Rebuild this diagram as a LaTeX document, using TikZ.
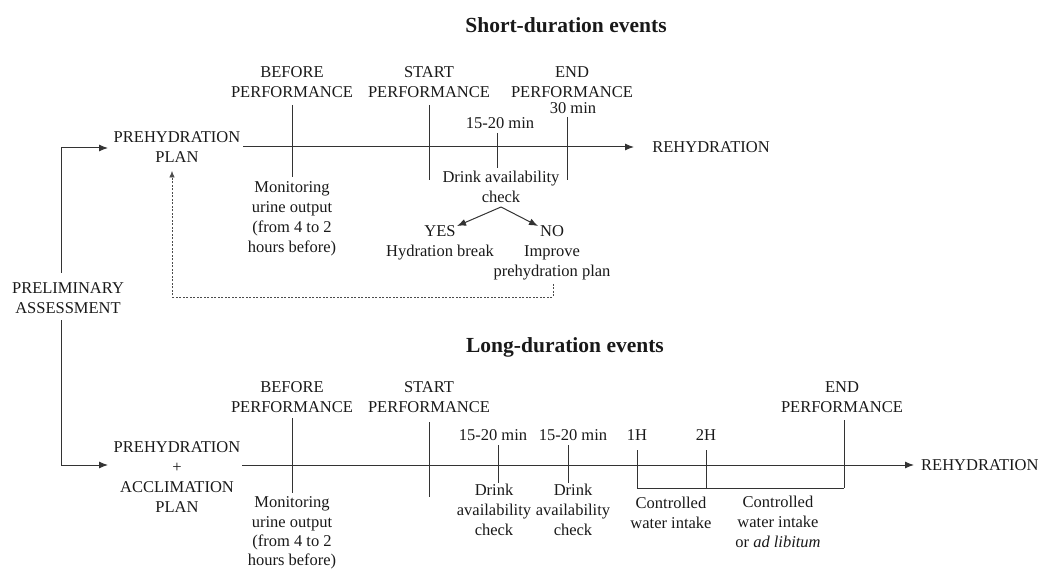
\documentclass[tikz,border=0pt]{standalone}
\usepackage{fontspec}
\setmainfont{Liberation Serif}
\usetikzlibrary{arrows.meta}
\begin{document}
\begin{tikzpicture}[x=1pt,y=-1pt,
  txt/.style={inner sep=0pt,align=center,font=\fontsize{16.5}{20}\selectfont,text=black!90},
  ttl/.style={inner sep=0pt,font=\fontsize{21.5}{24}\selectfont\bfseries,text=black!90},
  ln/.style={line width=1pt,draw=black!80},
  arr/.style={ln,-{Latex[length=9pt,width=7pt]}},
  dsh/.style={line width=0.6pt,draw=black!70,dash pattern=on 2pt off 1.5pt,-{Latex[length=6.5pt,width=5.5pt]}}]
\useasboundingbox (0,0) rectangle (1042,572);

% titles
\node[ttl] (t1) at (566,25) {Short-duration events};
\node[ttl] (t2) at (565,347) {Long-duration events};

% left
\node[txt] (prelim) at (68,298) {PRELIMINARY\\ASSESSMENT};
\node[txt] (plan1) at (177,147) {PREHYDRATION\\PLAN};
\node[txt] (plan2) at (177,477.5) {PREHYDRATION\\+\\ACCLIMATION\\PLAN};
\coordinate (pa) at (61,273);
\coordinate (pb) at (61,320);
\coordinate (p1w) at (108,148);
\coordinate (p2w) at (108,465);
\draw[arr] (pa) |- (p1w);
\draw[arr] (pb) |- (p2w);

% ---------- short-duration timeline ----------
\node[txt] (rh1) at (711,147) {REHYDRATION};
\coordinate (s0) at (243,147);
\coordinate (s1) at (634,147);
\draw[arr] (s0) -- (s1);

\node[txt] (sbef) at (292,82) {BEFORE\\PERFORMANCE};
\draw[ln] (292,105) -- (292,177);
\node[txt] (smon) at (292,219) {Monitoring\\urine output\\(from 4 to 2\\hours before)};

\node[txt] (sstart) at (429,82) {START\\PERFORMANCE};
\draw[ln] (429,105) -- (429,180);

\node[txt] (s15) at (500,123) {15-20 min};
\draw[ln] (497,133) -- (497,168);

\node[txt] (send) at (572,82) {END\\PERFORMANCE};
\node[txt] (s30) at (573,108) {30 min};
\draw[ln] (567,117) -- (567,180);

\node[txt] (sdrink) at (501,186.5) {Drink availability\\check};
\node[txt] (yes) at (440,243) {YES\\Hydration break};
\node[txt] (no) at (552,252.5) {NO\\Improve\\prehydration plan};
\coordinate (dk) at (501,207);
\coordinate (ya) at (457,226);
\coordinate (na) at (538,226);
\draw[arr] (dk) -- (ya);
\draw[arr] (dk) -- (na);

\coordinate (d0) at (553,284);
\coordinate (d1) at (553,297);
\coordinate (d2) at (172,297);
\coordinate (d3) at (172,171);
\draw[dsh] (d0) -- (d1) -- (d2) -- (d3);

% ---------- long-duration timeline ----------
\node[txt,anchor=west] (rh2) at (921,465) {REHYDRATION};
\coordinate (l0) at (242,465);
\coordinate (l1) at (914,465);
\draw[arr] (l0) -- (l1);

\node[txt] (lbef) at (292,397.5) {BEFORE\\PERFORMANCE};
\draw[ln] (292,418) -- (292,493);
\node[txt,font=\fontsize{16.5}{19.3}\selectfont] (lmon) at (292,533) {Monitoring\\urine output\\(from 4 to 2\\hours before)};

\node[txt] (lstart) at (429,397.5) {START\\PERFORMANCE};
\draw[ln] (429,422) -- (429,497);

\node[txt] (l15a) at (493,435) {15-20 min};
\draw[ln] (498,445) -- (498,483);
\node[txt] (ldra) at (494,510) {Drink\\availability\\check};

\node[txt] (l15b) at (573,435) {15-20 min};
\draw[ln] (568,445) -- (568,483);
\node[txt] (ldrb) at (573,510) {Drink\\availability\\check};

\node[txt] (l1h) at (637,435) {1H};
\node[txt] (l2h) at (706,435) {2H};
\node[txt] (lend) at (842,397.5) {END\\PERFORMANCE};
\draw[ln] (637,450) -- (637,488) -- (844,488);
\draw[ln] (706,450) -- (706,488);
\draw[ln] (844,420) -- (844,488);

\node[txt] (cw1) at (671,512.5) {Controlled\\water intake};
\node[txt] (cw2) at (778,521.5) {Controlled\\water intake\\or \textit{ad libitum}};
\end{tikzpicture}
\end{document}
